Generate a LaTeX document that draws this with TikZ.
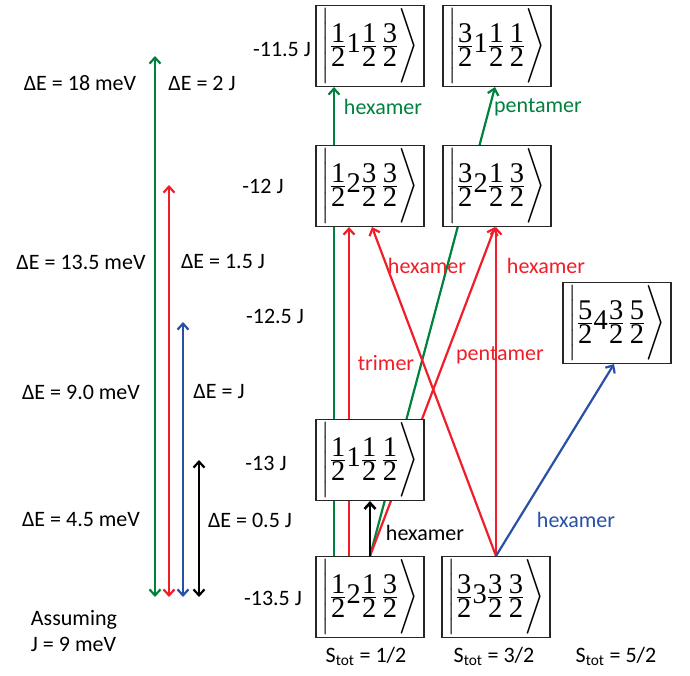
\documentclass[tikz,border=0pt]{standalone}
\usepackage{exscale}
\usepackage{fontspec}
\setmainfont{Carlito}
\newfontfamily\ketfont{Liberation Serif}
\usetikzlibrary{arrows.meta,backgrounds}

\definecolor{dkgreen}{RGB}{0,130,62}
\definecolor{ptred}{RGB}{240,30,40}
\definecolor{ptblue}{RGB}{40,80,165}

\newcommand\kd[1]{\mbox{\ketfont #1}}
\newcommand\kf[1]{\frac{\kd{#1}}{\kd{2}}}
\newcommand\ketstate[4]{$\textstyle\left|\rule[-25pt]{0pt}{64pt}\kf{#1}\kd{#2}\kf{#3}\,\kf{#4}\right\rangle$}

\begin{document}
\begin{tikzpicture}[
  x=1pt,y=-1pt,
  tip/.tip={Straight Barb[length=6pt,width=11pt]},
  ket/.style={draw=black!85,fill=white,line width=1.1pt,minimum width=108pt,minimum height=81pt,inner sep=0pt,font=\fontsize{28.5}{34}\selectfont},
  lbl/.style={font=\fontsize{22}{26}\selectfont},
  trans/.style={line width=2.2pt,-tip},
  gap/.style={line width=2.2pt,tip-tip},
]
  \useasboundingbox (0,0) rectangle (690,675);

  % spin states
  \node[ket] (a1) at (370,46) {\ketstate{1}{1}{1}{3}};
  \node[ket] (a2) at (497,46) {\ketstate{3}{1}{1}{1}};
  \node[ket] (b1) at (370,186) {\ketstate{1}{2}{3}{3}};
  \node[ket] (b2) at (497,186) {\ketstate{3}{2}{1}{3}};
  \node[ket] (c) at (617,323) {\ketstate{5}{4}{3}{5}};
  \node[ket] (d) at (370,460) {\ketstate{1}{1}{1}{1}};
  \node[ket] (e1) at (370,597) {\ketstate{1}{2}{1}{3}};
  \node[ket] (e2) at (496,597) {\ketstate{3}{3}{3}{3}};

  % transitions
  \begin{scope}[on background layer]
    \draw[trans,dkgreen] ([xshift=-36pt]e1.north) -- ([xshift=-36pt]a1.south);
    \draw[trans,dkgreen] (e1.north) -- ([xshift=-2pt]a2.south);
    \draw[trans,ptred] ([xshift=-21pt]e1.north) -- ([xshift=-21pt]b1.south);
    \draw[trans,ptred] (e1.north) -- ([xshift=-2pt]b2.south);
    \draw[trans,ptred] (e2.north) -- ([xshift=-1pt]b2.south);
    \draw[trans,ptred] (e2.north) -- ([xshift=2pt]b1.south);
    \draw[trans,ptblue] (e2.north) -- ([xshift=-3pt]c.south);
  \end{scope}
  \draw[trans,line width=2.6pt] (e1.north) -- (d.south);

  \node[lbl,text=dkgreen] (lhexa) at (383,107) {hexamer};
  \node[lbl,text=dkgreen] (lpenta) at (538,107) {pentamer};
  \node[lbl,text=ptred] (ltri) at (386,363) {trimer};
  \node[lbl,text=ptred] (lhexb) at (427,266) {hexamer};
  \node[lbl,text=ptred] (lhexc) at (546,266) {hexamer};
  \node[lbl,text=ptred] (lpentb) at (500,355) {pentamer};
  \node[lbl,text=ptblue] (lhexd) at (576,520) {hexamer};
  \node[lbl] (lhexe) at (425,533) {hexamer};

  % energy levels
  \node[lbl] (en1) at (282,50) {-11.5 J};
  \node[lbl] (en2) at (263,186) {-12 J};
  \node[lbl] (en3) at (275,316) {-12.5 J};
  \node[lbl] (en4) at (266,463) {-13 J};
  \node[lbl] (en5) at (273,598) {-13.5 J};

  % energy gaps
  \foreach \x/\y/\c in {155/56/dkgreen,169/185/ptred,183/322/ptblue,199/460/black} {
    \coordinate (lo-\c) at (\x,597);
    \coordinate (hi-\c) at (\x,\y);
    \draw[gap,\c] (lo-\c) -- (hi-\c);
  }
  \node[lbl] (g1) at (80,83) {ΔE = 18 meV};
  \node[lbl] (g2) at (81,262) {ΔE = 13.5 meV};
  \node[lbl] (g3) at (81,392) {ΔE = 9.0 meV};
  \node[lbl] (g4) at (81,520) {ΔE = 4.5 meV};
  \node[lbl] (j1) at (202,83) {ΔE = 2 J};
  \node[lbl] (j2) at (223,262) {ΔE = 1.5 J};
  \node[lbl] (j3) at (219,392) {ΔE = J};
  \node[lbl] (j4) at (250,520) {ΔE = 0.5 J};
  \node[lbl,align=left] (assume) at (74,631) {Assuming\\J = 9 meV};

  % total spin
  \node[lbl] (s1) at (366,656) {S\textsubscript{tot} = 1/2};
  \node[lbl] (s2) at (494,656) {S\textsubscript{tot} = 3/2};
  \node[lbl] (s3) at (616,656) {S\textsubscript{tot} = 5/2};
\end{tikzpicture}
\end{document}
